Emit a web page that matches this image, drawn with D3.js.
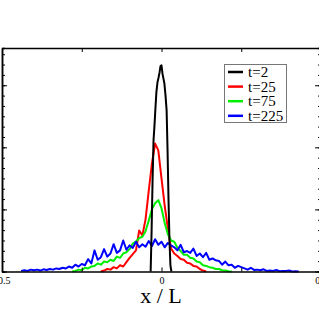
<!DOCTYPE html>
<html>
<head>
<meta charset="utf-8">
<script src="https://cdn.jsdelivr.net/npm/d3@7"></script>
<style>
  body { margin: 0; background: #fff; }
  svg { display: block; }
  text { font-family: "Liberation Serif", "Times New Roman", serif; }
</style>
</head>
<body>
<div id="chart"></div>
<script>
// profiles (y in arbitrary units, major tick = 10)
var xBlack = [-0.034, -0.031, -0.028, -0.025, -0.022, -0.019, -0.016, -0.0125, -0.009, -0.006, -0.003, 0,
  0.003, 0.006, 0.009, 0.0125, 0.016, 0.019, 0.022, 0.025, 0.028, 0.031];
var yBlack = [0, 6.6, 14.7, 21.1, 23.5, 26.3, 28.9, 30.5, 31.3, 32.1, 33.1, 33.2,
  31.9, 31.1, 30.3, 28.4, 26.0, 19.5, 11.5, 5.0, 1.0, 0];

var xRedStart = -0.19;
var yRed = [0, 0.15, 0.4, 0.3, 0.7, 0.5, 1.0, 0.8, 1.5, 2.2, 2.8, 3.4, 6.6, 5.8, 8.4, 13, 17.4, 20.6,
  19.5, 15, 10.6, 6.9, 3.7, 2.9, 2.5, 2.0, 1.9, 1.4, 1.3, 0.9, 0.8, 0.4, 0.15, 0];

var xGreenStart = -0.28;
var yGreen = [0, 0.1, 0.3, 0.2, 0.6, 0.5, 0.8, 0.9, 1.3, 1.1, 1.6, 1.5, 1.9, 1.7, 2.4, 2.2, 2.9, 3.1, 3.6,
  4.5, 4.8, 5.4, 5.6, 6.5, 8.2, 10.0, 11.0, 11.5, 10.2, 7.8, 6.0, 5.0, 4.8, 3.8, 3.3, 2.7, 2.7, 2.2, 2.1,
  1.6, 1.5, 1.0, 0.9, 0.7, 0.6, 0.4, 0.4, 0.2, 0.15, 0.05, 0];

var xBlueStart = -0.44;
var yBlue = [0.1, 0.2, 0.1, 0.3, 0.2, 0.3, 0.15, 0.35, 0.25, 0.4, 0.3, 0.5, 0.4, 0.6, 0.5, 0.8, 0.6, 1.1,
  0.8, 1.2, 1.0, 2.0, 1.3, 3.4, 1.9, 2.3, 3.6, 2.4, 2.9, 4.4, 3.0, 3.4, 5.0, 3.5, 4.2, 3.8, 4.8, 3.9,
  4.4, 4.0, 4.9, 4.1, 5.2, 4.3, 4.8, 3.9, 4.6, 4.2, 3.9, 3.4, 4.3, 3.1, 3.3, 3.0, 3.7, 2.5, 2.9, 2.3,
  3.0, 1.9, 2.1, 1.8, 1.7, 1.1, 1.6, 1.0, 1.1, 0.6, 0.9, 0.7, 0.5, 0.3, 0.6, 0.25, 0.3, 0.2, 0.35,
  0.1, 0.15, 0.1, 0.25, 0.05, 0.1, 0.1, 0.15, 0, 0.05, 0];

var seriesNames = ["t=2", "t=25", "t=75", "t=225"];
var seriesColors = ["#000000", "#ff0000", "#00ee00", "#0000ff"];

var xTicks = [-0.5, -0.25, 0, 0.25, 0.5];
var xLabels = [-0.5, 0, 0.5];
var yMajor = [0, 10, 20, 30];
var yMinorStep = 10 / 6;

function grid(start, ys) {
  return ys.map(function(v, i) {
    return { x: start + i * 0.01, y: v };
  });
}

var series = [
  { name: seriesNames[0], color: seriesColors[0], pts: xBlack.map(function(x, i) { return { x: x, y: yBlack[i] }; }) },
  { name: seriesNames[1], color: seriesColors[1], pts: grid(xRedStart, yRed) },
  { name: seriesNames[2], color: seriesColors[2], pts: grid(xGreenStart, yGreen) },
  { name: seriesNames[3], color: seriesColors[3], pts: grid(xBlueStart, yBlue) }
];

var width = 319, height = 319;
var pLeft = 2, pRight = 321, pTop = 48, pBottom = 271.5;

var x = d3.scaleLinear().domain([-0.5, 0.5]).range([pLeft, pRight]);
var y = d3.scaleLinear().domain([0, 36]).range([pBottom, pTop]);

var svg = d3.select("#chart").append("svg")
  .attr("width", width)
  .attr("height", height);

var line = d3.line()
  .x(function(d) { return x(d.x); })
  .y(function(d) { return y(d.y); });

// draw order: red, green, blue, then black on top
[1, 2, 3, 0].forEach(function(k) {
  svg.append("path")
    .datum(series[k].pts)
    .attr("fill", "none")
    .attr("stroke", series[k].color)
    .attr("stroke-width", 2)
    .attr("stroke-linejoin", "round")
    .attr("d", line);
});

var yMinor = d3.range(0, 36, yMinorStep);

function styleAxis(g) {
  g.selectAll("path").attr("stroke", "#000").attr("stroke-width", 1.5);
  g.selectAll("line").attr("stroke", "#000").attr("stroke-width", 1);
}

// left & right
svg.append("g").attr("transform", "translate(" + pLeft + ",0)")
  .call(d3.axisRight(y).tickValues(yMinor).tickSize(3).tickFormat(""))
  .call(styleAxis);
svg.append("g").attr("transform", "translate(" + pLeft + ",0)")
  .call(d3.axisRight(y).tickValues(yMajor).tickSize(5).tickSizeOuter(0).tickFormat(""))
  .call(styleAxis);
svg.append("g").attr("transform", "translate(" + pRight + ",0)")
  .call(d3.axisLeft(y).tickValues(yMinor).tickSize(3).tickFormat(""))
  .call(styleAxis);
svg.append("g").attr("transform", "translate(" + pRight + ",0)")
  .call(d3.axisLeft(y).tickValues(yMajor).tickSize(6).tickSizeOuter(0).tickFormat(""))
  .call(styleAxis);

// top & bottom
svg.append("g").attr("transform", "translate(0," + pTop + ")")
  .call(d3.axisBottom(x).tickValues(xTicks).tickSizeInner(4).tickSizeOuter(0).tickFormat(""))
  .call(styleAxis);
var bottomAxis = svg.append("g").attr("transform", "translate(0," + pBottom + ")")
  .call(d3.axisBottom(x).tickValues(xTicks).tickSizeInner(-4).tickSizeOuter(0).tickPadding(5)
    .tickFormat(function(d) { return xLabels.indexOf(d) >= 0 ? String(d) : ""; }))
  .call(styleAxis);
bottomAxis.selectAll("text")
  .filter(function() { return this.textContent === ""; })
  .remove();
bottomAxis.selectAll("text")
  .attr("fill", "#000")
  .style("font-size", "10px");

svg.append("text")
  .attr("x", 161)
  .attr("y", 303)
  .attr("text-anchor", "middle")
  .style("font-size", "22px")
  .attr("fill", "#000")
  .text("x / L");

// legend
var legend = svg.append("g");
legend.append("rect")
  .attr("x", 224.5).attr("y", 64.5)
  .attr("width", 62).attr("height", 58)
  .attr("fill", "#fff")
  .attr("stroke", "#777")
  .attr("stroke-width", 1);

var item = legend.selectAll(".item")
  .data(series)
  .enter().append("g")
  .attr("class", "item")
  .attr("transform", function(d, i) { return "translate(0," + (72 + i * 14.6) + ")"; });
item.append("line")
  .attr("x1", 228).attr("x2", 243)
  .attr("stroke", function(d) { return d.color; })
  .attr("stroke-width", 2.5);
item.append("text")
  .attr("x", 248)
  .attr("y", 5)
  .style("font-size", "15px")
  .attr("fill", "#000")
  .text(function(d) { return d.name; });
</script>
</body>
</html>
